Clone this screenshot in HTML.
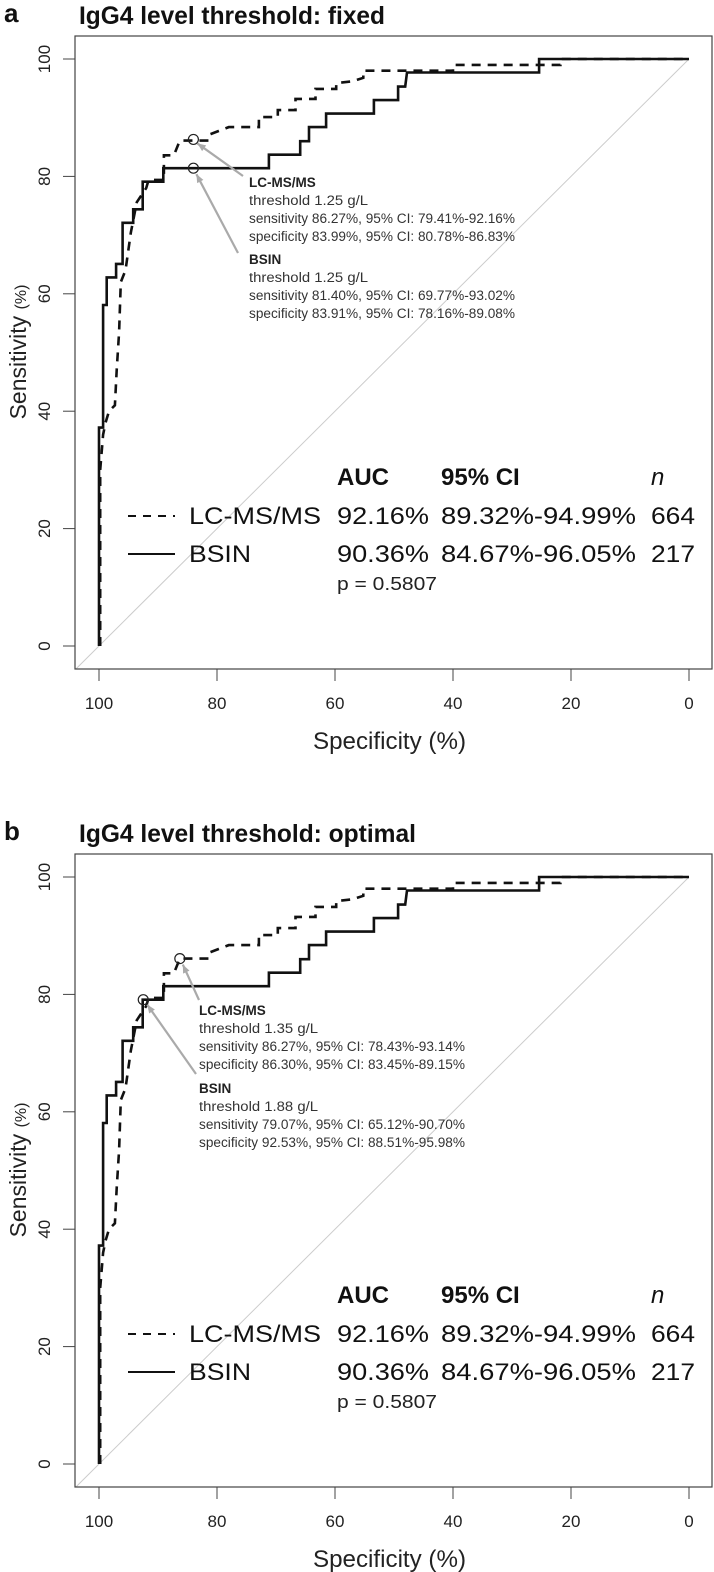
<!DOCTYPE html>
<html><head><meta charset="utf-8"><style>
html,body{margin:0;padding:0;background:#fff;}
svg{display:block;font-family:"Liberation Sans",sans-serif;}
</style></head><body>
<svg id="s" width="714" height="1572" viewBox="0 0 714 1572"></svg>
<script>
const xTicks=[100,80,60,40,20,0];
const yTicks=[0,20,40,60,80,100];
const bsinSpec=[100,100,99.3,99.3,98.7,98.7,97.1,97.1,96.0,96.0,94.2,94.2,92.6,92.6,89.1,89.1,71.2,71.2,65.9,65.9,64.4,64.4,61.5,61.5,53.4,53.4,49.3,49.3,48.1,47.8,25.4,25.4,0];
const bsinSens=[0,37.2,37.2,58.1,58.1,62.8,62.8,65.1,65.1,72.1,72.1,74.4,74.4,79.1,79.1,81.4,81.4,83.7,83.7,86.0,86.0,88.4,88.4,90.7,90.7,93.0,93.0,95.3,95.3,97.7,97.7,100,100];
const lcSpec=[99.8,99.8,99.3,98.9,98.3,97.3,97.0,96.6,96.3,95.5,94.6,93.6,92.0,91.6,89.0,89.0,87.3,86.3,81.4,81.1,78,72.9,72.9,69.7,69.7,66.7,66.7,63.3,63.3,59.8,59.8,57,55.2,55.2,40,40,21.8,21.8,0];
const lcSens=[0,30,36,38,40,41,47,53.5,62,64,70.5,75.6,78,79.4,79.4,83.6,83.6,86.1,86.1,87.2,88.4,88.4,90.1,90.1,91.3,91.3,93.2,93.2,94.9,94.9,95.9,96.2,96.8,98.0,98.0,99.0,99.0,100,100];
const aucLabels=["92.16%","90.36%"];
const ciLabels=["89.32%-94.99%","84.67%-96.05%"];
const nLabels=["664","217"];
const panelTitles=["IgG4 level threshold: fixed","IgG4 level threshold: optimal"];
const titleWidths=[306,337];
const cutSpecA=[84.0,84.0], cutSensA=[86.3,81.4];
const cutSpecB=[86.3,92.5], cutSensB=[86.1,79.1];
const annotA=[["threshold 1.25 g/L","sensitivity 86.27%, 95% CI: 79.41%-92.16%","specificity 83.99%, 95% CI: 80.78%-86.83%"],["threshold 1.25 g/L","sensitivity 81.40%, 95% CI: 69.77%-93.02%","specificity 83.91%, 95% CI: 78.16%-89.08%"]];
const annotB=[["threshold 1.35 g/L","sensitivity 86.27%, 95% CI: 78.43%-93.14%","specificity 86.30%, 95% CI: 83.45%-89.15%"],["threshold 1.88 g/L","sensitivity 79.07%, 95% CI: 65.12%-90.70%","specificity 92.53%, 95% CI: 88.51%-95.98%"]];

const NS="http://www.w3.org/2000/svg";
const svg=document.getElementById('s');
function mk(tag,attrs,parent,text){const e=document.createElementNS(NS,tag);for(const k in attrs)e.setAttribute(k,attrs[k]);if(text!==undefined)e.textContent=text;(parent||svg).appendChild(e);return e;}

function panel(off,letter,title,tw,cutSpec,cutSens,annot,annotPos,arrows){
  const g=mk('g',{});
  
  
  const L=75,R=712,T=36+off,B=669+off;
  const sx=v=>689-v*5.9;
  const sy=v=>646+off-v*5.87;
  let t=mk('text',{x:4,y:22+off,'font-size':26,'font-weight':'bold',fill:'#111'},g,letter);
  
  
  t=mk('text',{x:79,y:24+off,'font-size':25,'font-weight':'bold',fill:'#111',textLength:tw,lengthAdjust:'spacingAndGlyphs'},g,title);
  
  
  const d=mk('line',{x1:sx(100+(B-(646+off))/5.87),y1:B,x2:sx(0),y2:sy(100),stroke:'#ccc','stroke-width':1},g);
  
  
  const box=mk('rect',{x:L,y:T,width:R-L,height:B-T,fill:'none',stroke:'#444','stroke-width':1.2},g);
  
  
  yTicks.forEach(v=>{
    const y=sy(v);
    const tk=mk('line',{x1:63,x2:L,y1:y,y2:y,stroke:'#444','stroke-width':1},g);
    
    
    const lb=mk('text',{x:0,y:0,'font-size':17,fill:'#222','text-anchor':'middle',transform:`translate(50,${y}) rotate(-90)`},g,String(v));
    
    
  });
  xTicks.forEach(v=>{
    const x=sx(v);
    const tk=mk('line',{x1:x,x2:x,y1:B,y2:B+12,stroke:'#444','stroke-width':1},g);
    
    
    const lb=mk('text',{x:x,y:709+off,'font-size':17,fill:'#222','text-anchor':'middle'},g,String(v));
    
    
  });
  t=mk('text',{x:313,y:749+off,'font-size':24,fill:'#222',textLength:153,lengthAdjust:'spacingAndGlyphs'},g,'Specificity (%)');
  
  
  t=mk('text',{x:0,y:0,'font-size':23,fill:'#222','text-anchor':'middle',transform:`translate(26,${352+off}) rotate(-90)`},g);
  
  
  mk('tspan',{},t,'Sensitivity ');
  mk('tspan',{'font-size':16},t,'(%)');
  const pts=(a,b)=>a.map((v,i)=>sx(v).toFixed(1)+','+sy(b[i]).toFixed(1)).join(' ');
  let c=mk('polyline',{points:pts(lcSpec,lcSens),fill:'none',stroke:'#111','stroke-width':2.6,'stroke-dasharray':'9,7'},g);
  
  
  c=mk('polyline',{points:pts(bsinSpec,bsinSens),fill:'none',stroke:'#111','stroke-width':2.6},g);
  
  
  const names=['LC-MS/MS','BSIN'];
  for(let i=0;i<2;i++){
    const cx=sx(cutSpec[i]),cy=sy(cutSens[i]);
    const ci=mk('circle',{cx:cx,cy:cy,r:5,fill:'none',stroke:'#222','stroke-width':1.2},g);
    
    
    const a=arrows[i];
    const ar=mk('line',{x1:a[0],y1:a[1]+off,x2:cx+a[2],y2:cy+a[3],stroke:'#aaa','stroke-width':2.2},g);
    
    
    const ang=Math.atan2(cy+a[3]-(a[1]+off),cx+a[2]-a[0]);
    const hx=cx+a[2],hy=cy+a[3];
    const hd=mk('polygon',{points:`${hx},${hy} ${hx-9*Math.cos(ang-0.4)},${hy-9*Math.sin(ang-0.4)} ${hx-9*Math.cos(ang+0.4)},${hy-9*Math.sin(ang+0.4)}`,fill:'#aaa'},g);
    
    
    const [tx,ty]=annotPos[i];
    const h=mk('text',{x:tx,y:ty+off,'font-size':13.5,'font-weight':'bold',fill:'#222'},g,names[i]);
    
    
    annot[i].forEach((s,j)=>{
      const l=mk('text',{x:tx,y:ty+off+18*(j+1),'font-size':13.5,fill:'#333',textLength:j?266:119,lengthAdjust:'spacingAndGlyphs'},g,s);
      
      
    });
  }
  const hy=485+off;
  [['AUC',337],['95% CI',441]].forEach(([s,x])=>{
    const e=mk('text',{x:x,y:hy,'font-size':24,'font-weight':'bold',fill:'#111'},g,s);
    
    
  });
  t=mk('text',{x:651,y:hy,'font-size':24,'font-style':'italic',fill:'#111'},g,'n');
  
  
  for(let i=0;i<2;i++){
    const ry=524+off+38*i;
    const ll=mk('line',{x1:128,x2:175,y1:ry-8,y2:ry-8,stroke:'#111','stroke-width':2,'stroke-dasharray':i?'none':'8,7'},g);
    
    
    const nm=mk('text',{x:189,y:ry,'font-size':24,fill:'#111',textLength:i?62:132,lengthAdjust:'spacingAndGlyphs'},g,names[i]);
    
    
    const au=mk('text',{x:337,y:ry,'font-size':24,fill:'#111',textLength:92,lengthAdjust:'spacingAndGlyphs'},g,aucLabels[i]);
    
    
    const cl=mk('text',{x:441,y:ry,'font-size':24,fill:'#111',textLength:195,lengthAdjust:'spacingAndGlyphs'},g,ciLabels[i]);
    
    
    const nn=mk('text',{x:651,y:ry,'font-size':24,fill:'#111',textLength:44,lengthAdjust:'spacingAndGlyphs'},g,nLabels[i]);
    
    
  }
  t=mk('text',{x:337,y:590+off,'font-size':18,fill:'#222',textLength:100,lengthAdjust:'spacingAndGlyphs'},g,'p = 0.5807');
  
  
}
panel(0,'a',panelTitles[0],titleWidths[0],cutSpecA,cutSensA,annotA,[[249,187],[249,264]],[[243,176,4,4],[238,253,3,6]]);
panel(818,'b',panelTitles[1],titleWidths[1],cutSpecB,cutSensB,annotB,[[199,197],[199,275]],[[199,182,3,6],[196,256,4,5]]);
</script>
</body></html>
